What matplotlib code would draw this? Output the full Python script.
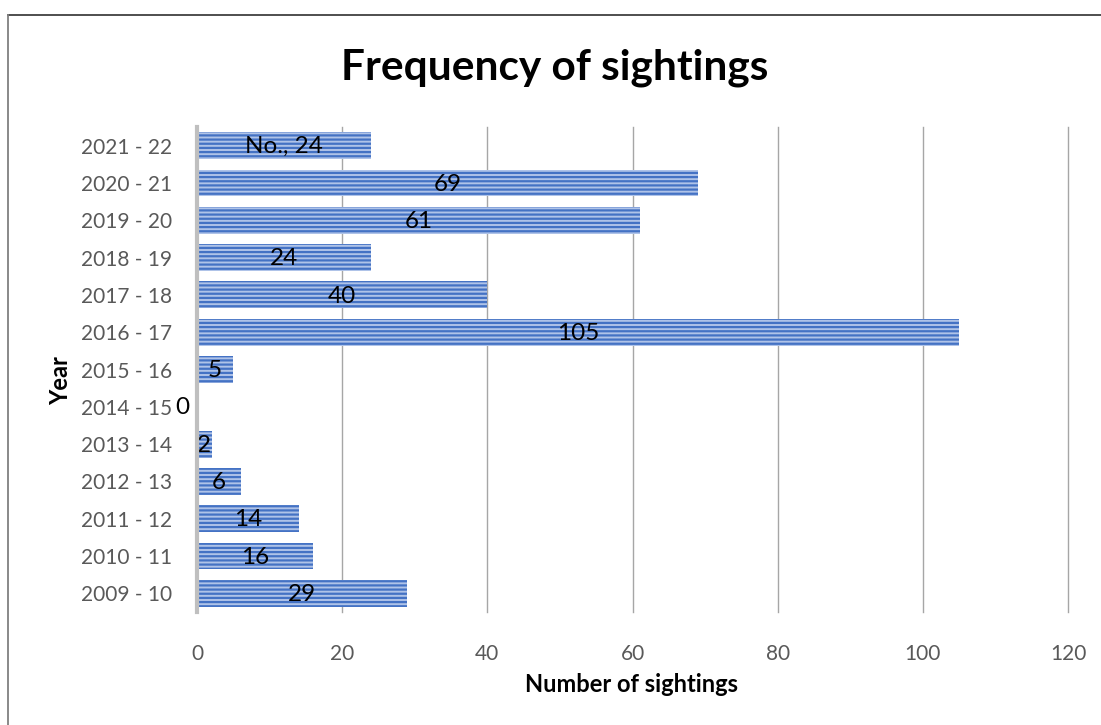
import matplotlib
matplotlib.use("Agg")
import matplotlib.pyplot as plt
from matplotlib.lines import Line2D

plt.rcParams['font.family'] = ['Lato', 'DejaVu Sans']
plt.rcParams['hatch.linewidth'] = 1.6

years = ["2009 - 10", "2010 - 11", "2011 - 12", "2012 - 13", "2013 - 14", "2014 - 15",
         "2015 - 16", "2016 - 17", "2017 - 18", "2018 - 19", "2019 - 20", "2020 - 21", "2021 - 22"]
sightings = [29, 16, 14, 6, 2, 0, 5, 105, 40, 24, 61, 69, 24]
xticks = [0, 20, 40, 60, 80, 100, 120]

fig = plt.figure(figsize=(11.01, 7.25), dpi=100)
ax = fig.add_axes([197/1101, 1 - 612/725, (1068 - 197)/1101, (612 - 127)/725])

y = list(range(len(years)))
ax.barh(y, sightings, height=0.72, color='#AFC3E8', edgecolor='#4472C4', hatch='----', linewidth=0, zorder=3)

for yi, v, name in zip(y, sightings, years):
    label = f"No., {v}" if name == "2021 - 22" else str(v)
    xpos = v / 2 if v > 0 else -2
    ax.text(xpos, yi - 0.03, label, ha='center', va='center', fontsize=17.5, color='black', zorder=4)

ax.set_xlim(0, 120)
ax.set_ylim(-0.5, len(years) - 0.5)
ax.set_xticks(xticks)
ax.set_xticklabels([str(t) for t in xticks])
ax.set_yticks(y)
ax.set_yticklabels(years)
ax.tick_params(axis='both', length=0, labelsize=15, labelcolor='#595959')
ax.tick_params(axis='x', pad=23)
ax.tick_params(axis='y', pad=18)
for t in xticks[1:]:
    ax.axvline(t, color='#A6A6A6', linewidth=1, zorder=0, clip_on=False)
for s in ['top', 'right', 'bottom']:
    ax.spines[s].set_visible(False)
ax.spines['left'].set_color('#BFBFBF')
ax.spines['left'].set_linewidth(3)
ax.spines['left'].set_zorder(5)

ax.set_xlabel("Number of sightings", fontsize=17, fontweight='bold', va='center')
ax.xaxis.set_label_coords(0.4994, -(685 - 612) / 485)
ax.set_ylabel("Year", fontsize=17, fontweight='bold', va='center')
ax.yaxis.set_label_coords((61 - 197) / 871, (612 - 381) / 485)
fig.text(0.5 + 4/1101, 1 - 68/725, "Frequency of sightings", ha='center', va='center', fontsize=30.5, fontweight='bold')

# outer frame
fig.add_artist(Line2D([8/1101, 1.0], [1 - 15/725, 1 - 15/725], color='#404040', linewidth=1.3, transform=fig.transFigure))
fig.add_artist(Line2D([8/1101, 8/1101], [0, 1 - 15/725], color='#808080', linewidth=1.3, transform=fig.transFigure))

fig.savefig("out.png", dpi=100)
